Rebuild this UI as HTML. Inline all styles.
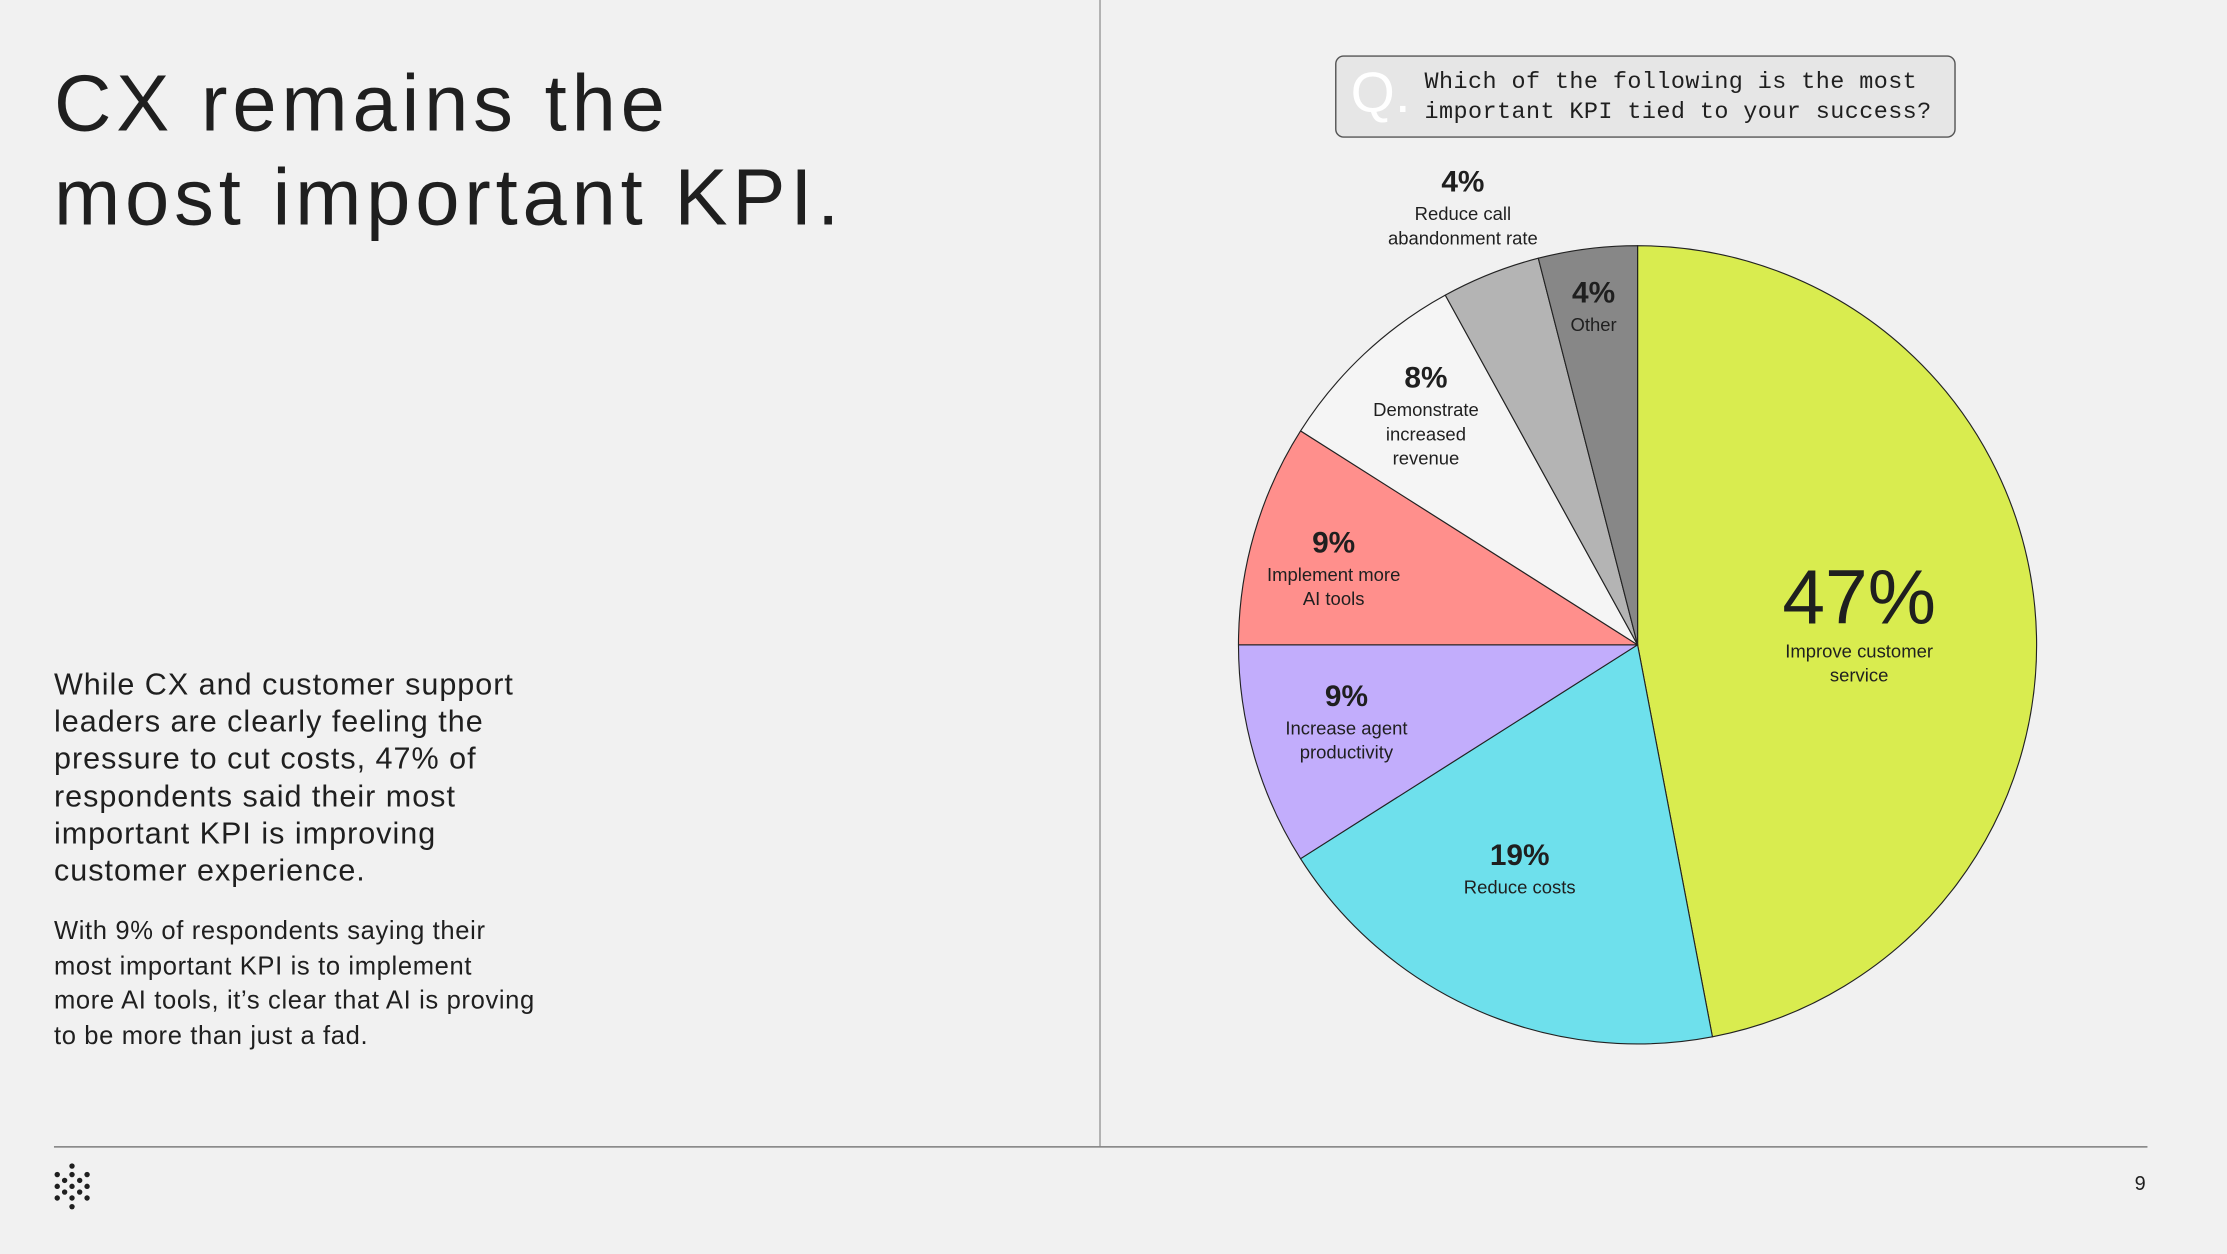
<!DOCTYPE html>
<html><head><meta charset="utf-8"><style>
html,body{margin:0;padding:0;background:#f1f1f1;}
body{width:2227px;height:1254px;overflow:hidden;}
#w{position:absolute;left:0;top:0;width:1568px;height:883px;transform:scale(1.42028);transform-origin:0 0;font-family:"Liberation Sans",sans-serif;color:#1f1f1f;}
.t{position:absolute;white-space:nowrap;}
h1{position:absolute;left:38px;top:40px;margin:0;font-weight:400;font-size:56px;line-height:66px;letter-spacing:3.4px;}
.p1{left:38px;top:469px;font-size:21.5px;line-height:26.2px;letter-spacing:0.7px;}
.p2{left:38px;top:643px;font-size:18px;line-height:24.6px;letter-spacing:0.45px;}
.q{position:absolute;left:940px;top:39px;width:437px;height:58px;border:1px solid #555;border-radius:6px;background:#e6e6e6;box-sizing:border-box;}
.q .Q{position:absolute;left:10px;top:4px;font-size:40px;color:#fff;}
.q .qt{position:absolute;left:62px;top:7px;font-family:"Liberation Mono",monospace;font-size:16.5px;line-height:21px;letter-spacing:0.3px;}
.lab{position:absolute;text-align:center;font-size:13px;line-height:17px;transform:translateX(-50%);}
.lab b{display:block;font-size:21px;line-height:26px;}
</style></head><body><div id="w">
<h1>CX remains the<br>most important KPI.</h1>
<div class="t p1">While CX and customer support<br>leaders are clearly feeling the<br>pressure to cut costs, 47% of<br>respondents said their most<br>important KPI is improving<br>customer experience.</div>
<div class="t p2">With 9% of respondents saying their<br>most important KPI is to implement<br>more AI tools, it’s clear that AI is proving<br>to be more than just a fad.</div>
<div style="position:absolute;left:774px;top:0;width:1px;height:807px;background:#999"></div>
<div style="position:absolute;left:38px;top:807px;width:1474px;height:1px;background:#777"></div>
<div class="t" style="left:1503px;top:825px;font-size:14px">9</div>
<div class="q"><span class="Q">Q.</span><div class="qt">Which of the following is the most<br>important KPI tied to your success?</div></div>
<svg style="position:absolute;left:0;top:0" width="1568" height="883">
<g stroke="#222" stroke-width="0.8" stroke-linejoin="round">
<path d="M1153,454 L1153,173 A281,281 0 0 1 1205.7,730 Z" fill="#d9ec4f"/>
<path d="M1153,454 L1205.7,730 A281,281 0 0 1 915.7,604.6 Z" fill="#6ee0ec"/>
<path d="M1153,454 L915.7,604.6 A281,281 0 0 1 872,454 Z" fill="#c2adfc"/>
<path d="M1153,454 L872,454 A281,281 0 0 1 915.7,303.4 Z" fill="#ff8f8c"/>
<path d="M1153,454 L915.7,303.4 A281,281 0 0 1 1017.6,207.8 Z" fill="#f5f5f5"/>
<path d="M1153,454 L1017.6,207.8 A281,281 0 0 1 1083.1,181.8 Z" fill="#b4b4b4"/>
<path d="M1153,454 L1083.1,181.8 A281,281 0 0 1 1153,173 Z" fill="#878787"/>
</g>
<g fill="#1f1f1f">
<circle cx="40.3" cy="827" r="1.9"/><circle cx="40.3" cy="835.3" r="1.9"/><circle cx="40.3" cy="843.5" r="1.9"/>
<circle cx="45.5" cy="831.1" r="1.9"/><circle cx="45.5" cy="839.3" r="1.9"/>
<circle cx="50.7" cy="821" r="1.9"/><circle cx="50.7" cy="827" r="1.9"/><circle cx="50.7" cy="835.3" r="1.9"/><circle cx="50.7" cy="843.5" r="1.9"/><circle cx="50.7" cy="849.6" r="1.9"/>
<circle cx="56.1" cy="831.1" r="1.9"/><circle cx="56.1" cy="839.3" r="1.9"/>
<circle cx="61.3" cy="827" r="1.9"/><circle cx="61.3" cy="835.3" r="1.9"/><circle cx="61.3" cy="843.5" r="1.9"/>
</g>
</svg>
<div class="lab" style="left:1309px;top:392px"><b style="font-size:54px;line-height:58px;font-weight:400">47%</b>Improve customer<br>service</div>
<div class="lab" style="left:1070px;top:590px"><b>19%</b>Reduce costs</div>
<div class="lab" style="left:948px;top:478px"><b>9%</b>Increase agent<br>productivity</div>
<div class="lab" style="left:939px;top:370px"><b>9%</b>Implement more<br>AI tools</div>
<div class="lab" style="left:1004px;top:254px"><b>8%</b>Demonstrate<br>increased<br>revenue</div>
<div class="lab" style="left:1030px;top:116px"><b>4%</b>Reduce call<br>abandonment rate</div>
<div class="lab" style="left:1122px;top:194px"><b>4%</b>Other</div>
</div></body></html>
